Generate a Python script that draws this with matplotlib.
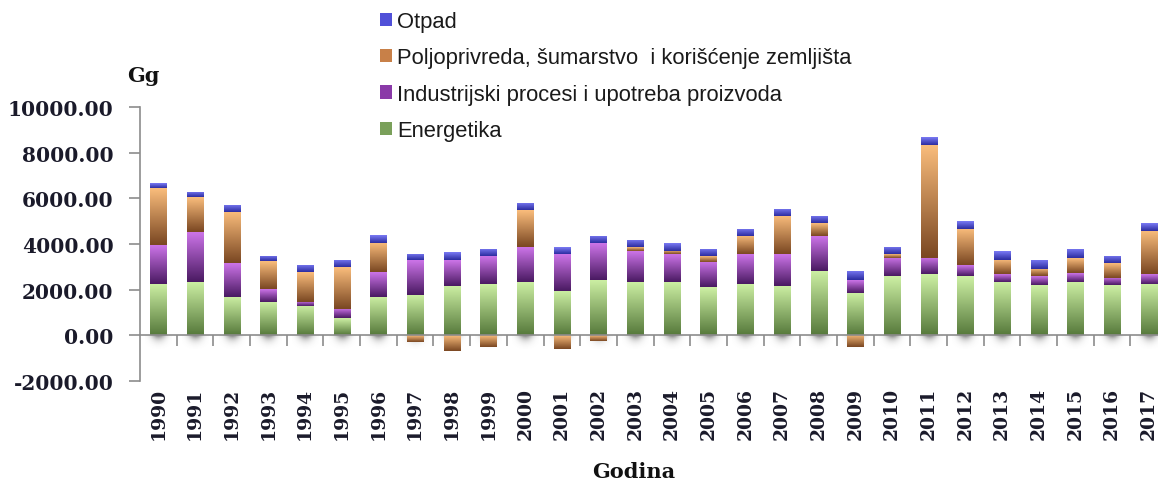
import numpy as np
import matplotlib.pyplot as plt
from matplotlib.colors import LinearSegmentedColormap
from matplotlib.patches import Patch

godine = ['1990', '1991', '1992', '1993', '1994', '1995', '1996', '1997', '1998', '1999',
          '2000', '2001', '2002', '2003', '2004', '2005', '2006', '2007', '2008', '2009',
          '2010', '2011', '2012', '2013', '2014', '2015', '2016', '2017']

energetika = [2263, 2351, 1694, 1475, 1299, 745, 1694, 1781, 2175, 2263,
              2351, 1942, 2424, 2351, 2351, 2102, 2263, 2175, 2832, 1869,
              2584, 2672, 2584, 2351, 2190, 2351, 2190, 2263]
industrija = [1708, 2160, 1460, 554, 176, 408, 1065, 1519, 1139, 1212,
              1518, 1620, 1606, 1357, 1197, 1125, 1285, 1373, 1519, 555,
              803, 715, 482, 321, 394, 394, 321, 409]
poljoprivreda = [2482, 1533, 2248, 1212, 1284, 1840, 1285, -290, -700, -520,
                 1606, -610, -260, 161, 160, 248, 803, 1679, 555, -540,
                 161, 4979, 1606, 642, 321, 642, 643, 1912]
otpad = [219, 234, 321, 248, 322, 321, 336, 277, 321, 321,
         336, 307, 321, 321, 322, 321, 321, 321, 335, 408,
         321, 321, 321, 394, 409, 409, 321, 322]

nazivi = ['Energetika',
          'Industrijski procesi i upotreba proizvoda',
          'Poljoprivreda, šumarstvo  i korišćenje zemljišta',
          'Otpad']
# (svetla boja gore, tamna dole)
boje = [('#cdf0a4', '#577a3c'),
        ('#cc74e8', '#4a1a62'),
        ('#fabd7c', '#7a4722'),
        ('#7c7cf6', '#2c2ca0')]

fig = plt.figure(figsize=(11.58, 4.85), dpi=100)
ax = fig.add_axes([0.1209, 0.213, 0.8791, 0.5637])

x = np.arange(len(godine))
e = np.array(energetika, dtype=float)
ind = np.array(industrija, dtype=float)
p = np.array(poljoprivreda, dtype=float)
o = np.array(otpad, dtype=float)

dno_p = np.where(p >= 0, e + ind, 0)
dno_o = e + ind + np.clip(p, 0, None)

sirina = 0.445
serije = [(e, 0), (ind, e), (p, dno_p), (o, dno_o)]

# senka ispod stubova
gy, gx = np.mgrid[0:1:60j, -1:1:40j]
senka = np.exp(-(gx ** 2) / 0.3) * np.exp(-gy * 2.5) * (1 - gy)
for xi in x:
    ax.imshow(np.ones_like(senka), cmap=LinearSegmentedColormap.from_list('s', ['#666666', '#666666']),
              extent=(xi - sirina * 0.8, xi + sirina * 0.8, -650, 0), aspect='auto',
              alpha=np.clip(senka, 0, 1) * 0.9, zorder=1, interpolation='bicubic')

grad = np.linspace(0, 1, 100).reshape(-1, 1)
for (vals, dno), (sv, tm), ime in zip(serije, boje, nazivi):
    bars = ax.bar(x, vals, sirina, bottom=dno, color=sv, edgecolor='none', zorder=2)
    cmap = LinearSegmentedColormap.from_list(ime, [sv, tm])
    for r in bars:
        x0, y0 = r.get_x(), r.get_y()
        w, h = r.get_width(), r.get_height()
        lo, hi = min(y0, y0 + h), max(y0, y0 + h)
        im = ax.imshow(grad, cmap=cmap, extent=(x0, x0 + w, lo, hi), aspect='auto',
                       zorder=3, interpolation='bicubic')
        im.set_clip_path(r)

ax.set_xlim(-0.5, 27.25)
ax.set_ylim(-2000, 10000)

for s in ['top', 'right']:
    ax.spines[s].set_visible(False)
ax.spines['bottom'].set_position(('data', 0))
ax.spines['bottom'].set_color('#8c8c8c')
ax.spines['left'].set_color('#8c8c8c')
ax.spines['bottom'].set_linewidth(1.2)
ax.spines['left'].set_linewidth(1.2)
ax.spines['bottom'].set_zorder(4)

ax.set_yticks([-2000, 0, 2000, 4000, 6000, 8000, 10000])
ax.set_yticklabels(['%.2f' % v for v in ax.get_yticks()])
ax.tick_params(axis='y', length=8, width=1.2, color='#8c8c8c', pad=11)
for t in ax.get_yticklabels():
    t.set_fontfamily('DejaVu Serif')
    t.set_fontweight('bold')
    t.set_fontsize(14.5)
    t.set_color('#1a1a2a')

ax.set_xticks(x[:-1] + 0.5)
ax.set_xticklabels([])
ax.tick_params(axis='x', which='major', length=8, width=1.2, color='#8c8c8c', direction='out')
ax.set_xticks(x, minor=True)
ax.set_xticklabels(godine, minor=True, rotation=90, fontfamily='DejaVu Serif',
                   fontweight='bold', fontsize=13.5, color='#1a1a2a')
ax.tick_params(axis='x', which='minor', length=0, pad=37)

fig.text(0.11, 0.83, 'Gg', fontfamily='DejaVu Serif', fontweight='bold',
         fontsize=15, color='#111111')
fig.text(0.5475, 0.0144, 'Godina', fontfamily='DejaVu Serif', fontweight='bold',
         fontsize=15, color='#111111', ha='center', va='baseline')

rucke = [Patch(facecolor=c, edgecolor='none') for c in ['#7aa05a', '#8a3aa8', '#c88048', '#5050d8']]
leg = fig.legend(rucke[::-1], nazivi[::-1], loc='upper left', bbox_to_anchor=(0.318, 1.0),
                 frameon=False, prop={'family': 'Liberation Sans', 'size': 15.8},
                 handlelength=0.55, handleheight=0.55, handletextpad=0.2,
                 labelspacing=0.70, borderaxespad=0.15)
for t in leg.get_texts():
    t.set_color('#1a1a1a')

fig.savefig('out.png', dpi=100)
